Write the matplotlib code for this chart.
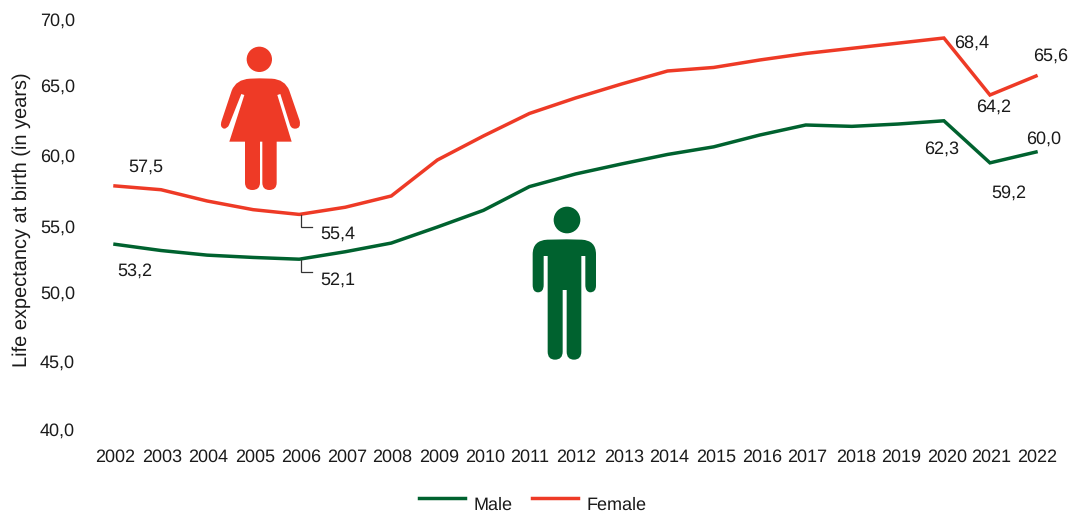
import matplotlib
matplotlib.use('Agg')
import matplotlib.pyplot as plt
from matplotlib.lines import Line2D
from matplotlib.patches import Circle, PathPatch
from matplotlib.path import Path
from matplotlib.transforms import Affine2D, IdentityTransform, ScaledTranslation

plt.rcParams['font.family'] = ['Liberation Sans', 'DejaVu Sans']
plt.rcParams['text.hinting'] = 'no_hinting'
plt.rcParams['text.hinting_factor'] = 1

years = list(range(2002, 2023))
female = [57.5, 57.22, 56.39, 55.75, 55.4, 55.93, 56.76, 59.41, 61.18, 62.84, 63.98,
          65.01, 65.97, 66.23, 66.78, 67.26, 67.64, 68.02, 68.4, 64.2, 65.6]
male = [53.2, 52.74, 52.4, 52.23, 52.1, 52.65, 53.29, 54.47, 55.7, 57.45, 58.38,
        59.12, 59.82, 60.38, 61.25, 61.99, 61.89, 62.06, 62.3, 59.2, 60.0]
y_ticks = [40, 45, 50, 55, 60, 65, 70]

RED = '#EE3A26'
GREEN = '#00622F'
TEXT = '#1a1a1a'
FS = 12.9
W, H = 1072, 513

fig = plt.figure(figsize=(W / 100, H / 100), dpi=100)
ax = fig.add_axes([115 / W, (H - 423.4) / H, 921 / W, 407.1 / H])
ax.set_xlim(2002, 2022)
ax.set_ylim(40, 70)
for s in ax.spines.values():
    s.set_visible(False)

ax.plot(years, male, color=GREEN, lw=2.5, label='Male', solid_joinstyle='miter', clip_on=False)
ax.plot(years, female, color=RED, lw=2.5, label='Female', solid_joinstyle='miter', clip_on=False)

# tick labels, nudged a few pixels off their nominal spots
ax.set_yticks(y_ticks)
ax.set_yticklabels([f'{v:.1f}'.replace('.', ',') for v in y_ticks])
ax.set_xticks(years)
ax.set_xticklabels([str(y) for y in years])
ax.tick_params(length=0, labelsize=FS, labelcolor=TEXT)
ax.tick_params(axis='y', pad=28.8)
ax.tick_params(axis='x', pad=18)

y_nudge = [5.6, 5.4, 4.3, 6, 3, 0.8, 2.7]
for lab, dy in zip(ax.get_yticklabels(), y_nudge):
    lab.set_transform(lab.get_transform() + ScaledTranslation(0, -dy / 100, fig.dpi_scale_trans))
x_nudge = [0, 1, 1, 2, 2, 2, 1, 2, 2, 0, 1, 3, 2, 2, 2, 1, 4, 3, 3, 1, 1]
for lab, dx in zip(ax.get_xticklabels(), x_nudge):
    lab.set_transform(lab.get_transform() + ScaledTranslation(dx / 100, 0, fig.dpi_scale_trans))

fig.text(22 / W, 1 - 220 / H, 'Life expectancy at birth (in years)', rotation=90,
         ha='center', va='center', fontsize=14.6, color=TEXT)

# value labels: series, year index, offset in pixels
labels = [
    (female, 0, 31, 19), (male, 0, 20, -27),
    (female, 4, 39, -20), (male, 4, 39, -21),
    (female, 18, 28, -5), (male, 18, -2, -28),
    (female, 19, 4, -12), (male, 19, 19, -30),
    (female, 20, 15, 20), (male, 20, 8, 13),
]
for series, i, dx, dy in labels:
    ax.annotate(f'{series[i]:.1f}'.replace('.', ','), (years[i], series[i]), xytext=(dx, dy),
                textcoords='offset pixels', ha='center', va='center', fontsize=FS, color=TEXT)

# small elbow leaders under the 2006 points
fig.canvas.draw()
for series in (female, male):
    x0, y0 = ax.transData.transform((2006, series[4]))
    fig.add_artist(Line2D([x0 + 2, x0 + 2, x0 + 13], [y0 - 1, y0 - 13, y0 - 13], color='#333333', lw=0.9,
                          transform=IdentityTransform(), solid_joinstyle='miter'))

leg = fig.legend(loc='center', bbox_to_anchor=(533 / W, 1 - 500 / H), ncol=2, frameon=False, fontsize=FS,
                 handlelength=2.55, handletextpad=0.5, columnspacing=1.1, labelcolor=TEXT)
for t in leg.get_texts():
    t.set_y(-5)

# figures drawn in pixel coordinates, 3 units to a pixel
C3 = Path.CURVE3
L = Path.LINETO


def figure_patch(x0, y0, head, segments, color):
    tf = Affine2D().scale(1 / 3).translate(x0, y0).scale(1, -1).translate(0, H)
    verts = [segments[0][1]]
    codes = [Path.MOVETO]
    for code, pt in segments[1:]:
        verts.append(pt)
        codes.append(code)
    verts.append(segments[0][1])
    codes.append(Path.CLOSEPOLY)
    fig.add_artist(PathPatch(Path(verts, codes), facecolor=color, edgecolor='none', transform=tf))
    fig.add_artist(Circle(head[:2], head[2], facecolor=color, edgecolor='none', transform=tf))


woman = [
    (None, (178, 145)), (L, (215, 146)), (C3, (255, 148)), (C3, (268, 182)), (L, (299, 272)),
    (C3, (304, 296)), (C3, (285, 296)), (C3, (274, 296)), (C3, (270, 285)), (L, (241, 192)),
    (L, (232, 195)), (L, (275, 335)), (L, (230, 335)), (L, (230, 458)), (C3, (230, 480)), (C3, (208, 480)),
    (C3, (187, 480)), (C3, (187, 458)), (L, (187, 335)), (L, (180, 335)), (L, (180, 458)),
    (C3, (180, 480)), (C3, (157, 480)), (C3, (135, 480)), (C3, (135, 458)), (L, (135, 335)),
    (L, (88, 335)), (L, (133, 195)), (L, (124, 192)), (L, (87, 285)), (C3, (82, 296)), (C3, (72, 296)),
    (C3, (58, 292)), (C3, (65, 272)), (L, (95, 182)), (C3, (108, 148)), (C3, (150, 146)),
]
man = [
    (None, (170, 133)), (L, (215, 134)), (C3, (258, 136)), (C3, (258, 178)), (L, (258, 272)),
    (C3, (258, 292)), (C3, (240, 292)), (C3, (226, 290)), (C3, (226, 270)), (L, (226, 183)),
    (L, (214, 183)), (L, (214, 470)), (C3, (214, 494)), (C3, (192, 494)), (C3, (170, 494)), (C3, (170, 470)),
    (L, (170, 285)), (L, (158, 285)), (L, (158, 470)), (C3, (158, 494)), (C3, (135, 494)),
    (C3, (113, 494)), (C3, (113, 470)), (L, (113, 183)), (L, (101, 183)), (L, (101, 270)),
    (C3, (101, 292)), (C3, (84, 292)), (C3, (68, 292)), (C3, (68, 270)), (L, (68, 178)),
    (C3, (68, 136)), (C3, (112, 134)),
]
figure_patch(200, 30, (178, 88, 38), woman, RED)
figure_patch(510, 195, (171, 75, 40), man, GREEN)

fig.savefig('out.png', dpi=100)
